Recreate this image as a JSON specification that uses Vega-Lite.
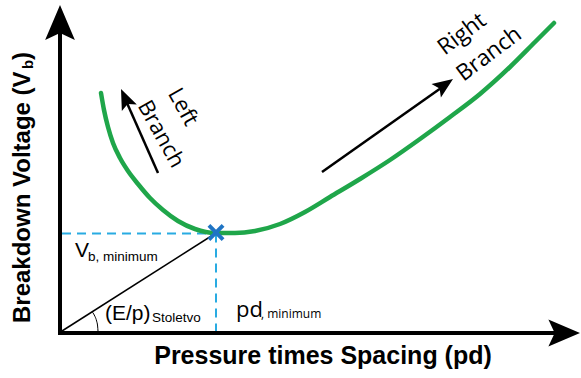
{
  "$schema": "https://vega.github.io/schema/vega-lite/v6.json",
  "width": 581,
  "height": 378,
  "padding": 0,
  "autosize": {"type": "fit", "contains": "padding"},
  "config": {"view": {"stroke": null}},
  "datasets": {
    "curve": [
      {"x": 41, "y": 240}, {"x": 44, "y": 223}, {"x": 48, "y": 206}, {"x": 53, "y": 190},
      {"x": 60, "y": 175}, {"x": 68, "y": 162}, {"x": 78, "y": 149}, {"x": 90, "y": 135},
      {"x": 103, "y": 123}, {"x": 118, "y": 112}, {"x": 135, "y": 104}, {"x": 155, "y": 100},
      {"x": 175, "y": 100}, {"x": 195, "y": 102}, {"x": 220, "y": 109}, {"x": 245, "y": 121},
      {"x": 270, "y": 136}, {"x": 300, "y": 154}, {"x": 330, "y": 173}, {"x": 360, "y": 194},
      {"x": 390, "y": 216}, {"x": 420, "y": 239}, {"x": 450, "y": 266}, {"x": 475, "y": 291},
      {"x": 494, "y": 310}
    ],
    "axes": [
      {"x": 0, "y": -2, "x2": 0, "y2": 305},
      {"x": -2, "y": 0, "x2": 495, "y2": 0}
    ],
    "dashes": [
      {"x": 2, "y": 99.5, "x2": 156, "y2": 99.5},
      {"x": 156, "y": 99.5, "x2": 156, "y2": 2}
    ],
    "diag": [
      {"x": 2, "y": 2, "x2": 156, "y2": 100}
    ],
    "shafts": [
      {"x": 98, "y": 160, "x2": 67, "y2": 230},
      {"x": 262, "y": 161, "x2": 381, "y2": 245}
    ],
    "arc": [
      {"x": 38, "y": 2}, {"x": 37.6, "y": 7}, {"x": 36.6, "y": 12}, {"x": 34.9, "y": 16.7}, {"x": 32.5, "y": 20.8}
    ],
    "heads": [
      {"name": "yaxis", "x": 0, "y": 328},
      {"name": "xaxis", "x": 520, "y": 0},
      {"name": "left", "x": 61, "y": 244},
      {"name": "right", "x": 393, "y": 254}
    ],
    "minimum": [{"x": 156, "y": 100.5}],
    "branch": [
      {"text": "Left", "x": 123, "y": 226, "group": "left"},
      {"text": "Branch", "x": 101, "y": 199, "group": "left"},
      {"text": "Right", "x": 402, "y": 299, "group": "right"},
      {"text": "Branch", "x": 429, "y": 279, "group": "right"}
    ],
    "ytitle": [
      {"text": "Breakdown Voltage (V", "x": -37, "y": 10, "part": "main"},
      {"text": "b", "x": -32, "y": 264, "part": "sub"},
      {"text": ")", "x": -37, "y": 273, "part": "close"}
    ],
    "xtitle": [{"text": "Pressure times Spacing (pd)", "x": 263, "y": -31}],
    "big": [
      {"text": "V", "x": 15, "y": 76},
      {"text": "(E/p)", "x": 45, "y": 13}
    ],
    "small": [
      {"text": "b, minimum", "x": 28, "y": 72},
      {"text": "Stoletvo", "x": 92, "y": 11}
    ],
    "pd": [{"text": "pd", "x": 176, "y": 16}],
    "pdsub": [{"text": ", minimum", "x": 201, "y": 15}]
  },
  "encoding": {
    "x": {"field": "x", "type": "quantitative", "scale": {"domain": [-60, 521], "nice": false, "zero": false}, "axis": null},
    "y": {"field": "y", "type": "quantitative", "scale": {"domain": [-45, 333], "nice": false, "zero": false}, "axis": null}
  },
  "layer": [
    {
      "data": {"name": "dashes"},
      "mark": {"type": "rule", "color": "#29ABE2", "strokeWidth": 2, "strokeDash": [9, 6]},
      "encoding": {"x2": {"field": "x2"}, "y2": {"field": "y2"}}
    },
    {
      "data": {"name": "diag"},
      "mark": {"type": "rule", "color": "#000000", "strokeWidth": 1.5},
      "encoding": {"x2": {"field": "x2"}, "y2": {"field": "y2"}}
    },
    {
      "data": {"name": "arc"},
      "mark": {"type": "line", "color": "#000000", "strokeWidth": 1, "interpolate": "monotone"},
      "encoding": {"order": {"field": "y", "type": "quantitative"}}
    },
    {
      "data": {"name": "curve"},
      "mark": {"type": "line", "color": "#1FA64A", "strokeWidth": 4.5, "interpolate": "monotone", "strokeCap": "round"},
      "encoding": {}
    },
    {
      "data": {"name": "axes"},
      "mark": {"type": "rule", "color": "#000000", "strokeWidth": 4},
      "encoding": {"x2": {"field": "x2"}, "y2": {"field": "y2"}}
    },
    {
      "data": {"name": "shafts"},
      "mark": {"type": "rule", "color": "#000000", "strokeWidth": 2.5},
      "encoding": {"x2": {"field": "x2"}, "y2": {"field": "y2"}}
    },
    {
      "data": {"name": "heads"},
      "transform": [{"filter": "datum.name === 'yaxis'"}],
      "mark": {"type": "point", "shape": "M0,0L0.85,2L0,1.6L-0.85,2Z", "filled": true, "color": "#000000", "opacity": 1, "size": 1225, "angle": 0},
      "encoding": {}
    },
    {
      "data": {"name": "heads"},
      "transform": [{"filter": "datum.name === 'xaxis'"}],
      "mark": {"type": "point", "shape": "M0,0L0.85,2L0,1.6L-0.85,2Z", "filled": true, "color": "#000000", "opacity": 1, "size": 1000, "angle": 90},
      "encoding": {}
    },
    {
      "data": {"name": "heads"},
      "transform": [{"filter": "datum.name === 'left'"}],
      "mark": {"type": "point", "shape": "M0,0L0.8,2L0,1.6L-0.8,2Z", "filled": true, "color": "#000000", "opacity": 1, "size": 420, "angle": -24},
      "encoding": {}
    },
    {
      "data": {"name": "heads"},
      "transform": [{"filter": "datum.name === 'right'"}],
      "mark": {"type": "point", "shape": "M0,0L0.8,2L0,1.6L-0.8,2Z", "filled": true, "color": "#000000", "opacity": 1, "size": 420, "angle": 55},
      "encoding": {}
    },
    {
      "data": {"name": "minimum"},
      "mark": {"type": "point", "shape": "M-1,-1L1,1M1,-1L-1,1", "filled": false, "color": "#1F74C4", "opacity": 1, "strokeWidth": 4, "size": 200},
      "encoding": {}
    },
    {
      "data": {"name": "branch"},
      "transform": [{"filter": "datum.group === 'left'"}],
      "mark": {"type": "text", "font": "Open Sans", "fontSize": 22, "align": "center", "baseline": "middle", "angle": 61, "color": "#000000"},
      "encoding": {"text": {"field": "text"}}
    },
    {
      "data": {"name": "branch"},
      "transform": [{"filter": "datum.group === 'right'"}],
      "mark": {"type": "text", "font": "Open Sans", "fontSize": 22.5, "align": "center", "baseline": "middle", "angle": -37, "color": "#000000"},
      "encoding": {"text": {"field": "text"}}
    },
    {
      "data": {"name": "ytitle"},
      "transform": [{"filter": "datum.part !== 'sub'"}],
      "mark": {"type": "text", "font": "Liberation Sans", "fontWeight": "bold", "fontSize": 24, "align": "left", "baseline": "middle", "angle": 270, "color": "#000000"},
      "encoding": {"text": {"field": "text"}}
    },
    {
      "data": {"name": "ytitle"},
      "transform": [{"filter": "datum.part === 'sub'"}],
      "mark": {"type": "text", "font": "Liberation Sans", "fontWeight": "bold", "fontSize": 15, "align": "left", "baseline": "middle", "angle": 270, "color": "#000000"},
      "encoding": {"text": {"field": "text"}}
    },
    {
      "data": {"name": "xtitle"},
      "mark": {"type": "text", "font": "Liberation Sans", "fontWeight": "bold", "fontSize": 25, "align": "center", "baseline": "alphabetic", "color": "#000000"},
      "encoding": {"text": {"field": "text"}}
    },
    {
      "data": {"name": "big"},
      "mark": {"type": "text", "font": "Liberation Sans", "fontSize": 21, "align": "left", "baseline": "alphabetic", "color": "#000000"},
      "encoding": {"text": {"field": "text"}}
    },
    {
      "data": {"name": "small"},
      "mark": {"type": "text", "font": "Liberation Sans", "fontSize": 13.5, "align": "left", "baseline": "alphabetic", "color": "#000000"},
      "encoding": {"text": {"field": "text"}}
    },
    {
      "data": {"name": "pd"},
      "mark": {"type": "text", "font": "Open Sans", "fontSize": 22, "align": "left", "baseline": "alphabetic", "color": "#000000"},
      "encoding": {"text": {"field": "text"}}
    },
    {
      "data": {"name": "pdsub"},
      "mark": {"type": "text", "font": "Open Sans", "fontSize": 12, "align": "left", "baseline": "alphabetic", "color": "#000000"},
      "encoding": {"text": {"field": "text"}}
    }
  ]
}
